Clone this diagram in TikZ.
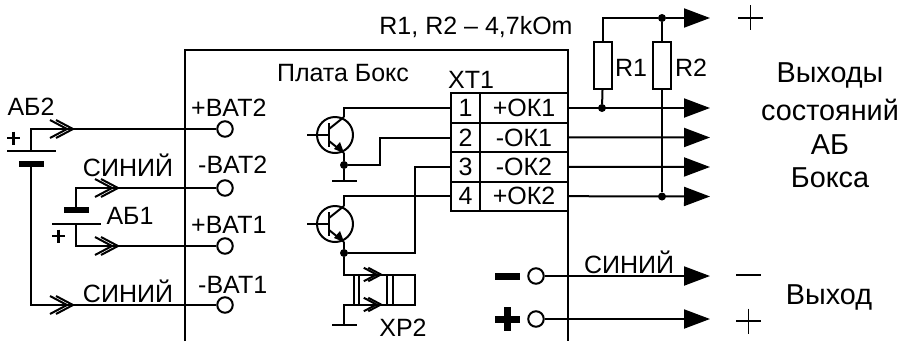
\documentclass[tikz,border=0pt]{standalone}
\usepackage{fontspec}
\setmainfont{Liberation Sans}
\usetikzlibrary{arrows.meta}
\tikzset{
  x=1pt,y=-1pt,
  wire/.style={line width=2pt,line join=miter},
  thinw/.style={line width=1.6pt},
  term/.style={circle,draw,line width=2pt,minimum size=15.5pt,inner sep=0pt,fill=none},
  dotn/.style={circle,fill=black,minimum size=8pt,inner sep=0pt},
  outarrow/.style={wire,-{Triangle[length=26pt,width=19pt]}},
  rbox/.style={draw,line width=2pt,minimum width=18pt,minimum height=47pt,inner sep=0pt},
  cell/.style={draw,line width=2pt,inner sep=0pt,minimum height=29.4pt,font=\fontsize{25}{28}\selectfont},
  lab/.style={inner sep=0pt,font=\fontsize{25}{28}\selectfont},
  lab2/.style={inner sep=0pt,font=\fontsize{28.8}{32}\selectfont},
  chevron/.pic={
    \draw[wire] (-23,-9)--(-6,0)--(-23,9);
    \draw[wire] (-17,-9)--(0,0)--(-17,9);
  },
  trans/.pic={
    \draw[wire] (0,0) circle (18);
    \draw[wire] (-28,0)--(-6,0);
    \draw[wire,line width=2.4pt] (-6,-12)--(-6,12);
    \draw[wire] (-6,-6)--(9,-18);
    \draw[wire] (-6,6)--(9,18);
    \fill (9,18)--(-1,14)--(5,7)--cycle;
  }
}
\begin{document}
\begin{tikzpicture}
\useasboundingbox (0,0) rectangle (909,341);

% board outline
\coordinate (bl) at (185,341);
\coordinate (tl) at (185,50);
\coordinate (tr) at (568,50);
\coordinate (br) at (568,341);
\draw[wire] (bl)--(tl)--(tr)--(br);

% terminals
\node[term] (bat2p) at (225,129) {};
\node[term] (bat2m) at (225,188) {};
\node[term] (bat1p) at (225,246) {};
\node[term] (bat1m) at (225,305) {};
\node[term] (outm) at (536,276) {};
\node[term] (outp) at (536,319) {};

% batteries
\coordinate (ab2a) at (31,151);
\coordinate (ab2b) at (31,164);
\coordinate (ab1a) at (76,210);
\coordinate (ab1b) at (76,224);
\draw[wire,line width=2.6pt] (7,151)--(56,151);
\draw[line width=6.5pt] (19,164)--(44,164);
\draw[line width=6.5pt] (64,210)--(89,210);
\draw[wire,line width=2.6pt] (52,224)--(101,224);
\draw[wire] (ab2a)|-(bat2p);
\draw[wire] (ab2b)|-(bat1m);
\draw[wire] (ab1a)|-(bat2m);
\draw[wire] (ab1b)|-(bat1p);
\pic at (73,129) {chevron};
\pic at (73,305) {chevron};
\pic at (118,188) {chevron};
\pic at (118,246) {chevron};
\draw[line width=2.4pt] (7,138)--(20,138) (13.5,131.5)--(13.5,144.5);
\draw[line width=2.4pt] (52,236)--(65,236) (58.5,229.5)--(58.5,242.5);

% left labels
\node[lab,anchor=center] (tab2) at (31,107) {АБ2};
\node[lab,anchor=center] (tab1) at (130,216) {АБ1};
\node[lab,anchor=center] (tbl1) at (128,165) {СИНИЙ};
\node[lab,anchor=center] (tbl2) at (128,291) {СИНИЙ};
\node[lab,anchor=west] (l1) at (191,108) {+BAT2};
\node[lab,anchor=west] (l2) at (198,165) {-BAT2};
\node[lab,anchor=west] (l3) at (191,225) {+BAT1};
\node[lab,anchor=west] (l4) at (198,285) {-BAT1};

% connector block XT1
\node[cell,minimum width=29.5pt] (n1) at (465.5,108) {1};
\node[cell,minimum width=29.5pt] (n2) at (465.5,137.4) {2};
\node[cell,minimum width=29.5pt] (n3) at (465.5,166.8) {3};
\node[cell,minimum width=29.5pt] (n4) at (465.5,196.2) {4};
\node[cell,minimum width=88pt] (c1) at (524,108) {+ОК1};
\node[cell,minimum width=88pt] (c2) at (524,137.4) {-ОК1};
\node[cell,minimum width=88pt] (c3) at (524,166.8) {-ОК2};
\node[cell,minimum width=88pt] (c4) at (524,196.2) {+ОК2};
\node[lab,anchor=center] (xt) at (471,80) {XT1};
\node[lab,anchor=center] (pl) at (343,73) {Плата Бокс};
\node[lab,anchor=center] (rr) at (476,27) {R1, R2 – 4,7kOm};

% transistors
\pic at (335,135) {trans};
\pic at (335,224) {trans};
\coordinate (c1t) at (344,117);
\coordinate (e1t) at (344,153);
\coordinate (c2t) at (344,206);
\coordinate (e2t) at (344,242);
\node[dotn] (d1) at (344,165) {};
\node[dotn] (d2) at (344,253) {};
\coordinate (g1) at (344,181);
\coordinate (g2) at (344,325);
\draw[wire] (c1t)|-(n1.west);
\draw[wire] (c2t)|-(n4.west);
\draw[wire] (e1t)--(d1)--(g1);
\draw[wire] (e2t)--(d2);
\draw[wire] (d1)-|(380,138)--(n2.west|-0,138);
\draw[wire] (d2)-|(415,167)--(n3.west|-0,167);
\draw[wire] (332,181)--(357,181);
\draw[wire] (332,325)--(357,325);

% XP2
\coordinate (p1) at (344,274.5);
\coordinate (p2) at (344,304.5);
\draw[wire] (d2)--(p1)--(415,274.5)--(415,304.5)--(p2)--(g2);
\foreach \px in {354,359,387,393}{\draw[thinw] (\px,274.5)--(\px,304.5);}
\pic[scale=0.75] at (381,274.5) {chevron};
\pic[scale=0.75] at (381,304.5) {chevron};
\node[lab,anchor=center] (xp) at (403,328) {XP2};

% outputs
\coordinate (a0) at (710,18);
\coordinate (a1) at (710,108);
\coordinate (a2) at (710,137.5);
\coordinate (a3) at (710,167);
\coordinate (a4) at (710,196.5);
\node[dotn] (dtop) at (662,18) {};
\node[dotn] (dr1) at (602,108) {};
\node[dotn] (dr2) at (662,196.5) {};
\node[rbox] (r1) at (602.5,65.5) {};
\node[rbox] (r2) at (662,65.5) {};
\draw[outarrow] (c1.east)--(a1);
\draw[outarrow] (c2.east)--(a2);
\draw[outarrow] (c3.east)--(a3);
\draw[outarrow] (c4.east)--(a4);
\draw[wire] (r1.north)|-(dtop);
\draw[outarrow] (dtop)--(a0);
\draw[wire] (dtop)--(r2.north);
\draw[wire] (r2.south)--(dr2);
\draw[wire] (r1.south)--(dr1);
\node[lab,anchor=center] (tr1) at (631,68) {R1};
\node[lab,anchor=center] (tr2) at (691,68) {R2};

% polarity signs at the right
\draw[thinw] (738,18)--(763,18) (750.5,5)--(750.5,30);
\draw[thinw] (736,275)--(761,275);
\draw[thinw] (736,321)--(761,321) (748.5,308.5)--(748.5,333.5);

% output pair
\coordinate (am) at (710,276);
\coordinate (ap) at (710,319);
\draw[outarrow] (outm.east)--(am);
\draw[outarrow] (outp.east)--(ap);
\draw[line width=7pt] (495,276)--(520,276);
\draw[line width=7pt] (495,319)--(520,319) (507.5,307)--(507.5,331);
\node[lab,anchor=center] (tbl3) at (629,262) {СИНИЙ};

% right-hand text
\node[lab2,anchor=center] at (830,75) (v1) {Выходы};
\node[lab2,anchor=center] at (830,110) (v2) {состояний};
\node[lab2,anchor=center] at (830,145) (v3) {АБ};
\node[lab2,anchor=center] at (830,178) (v4) {Бокса};
\node[lab2,anchor=center] at (829,297) (v5) {Выход};
\end{tikzpicture}
\end{document}
